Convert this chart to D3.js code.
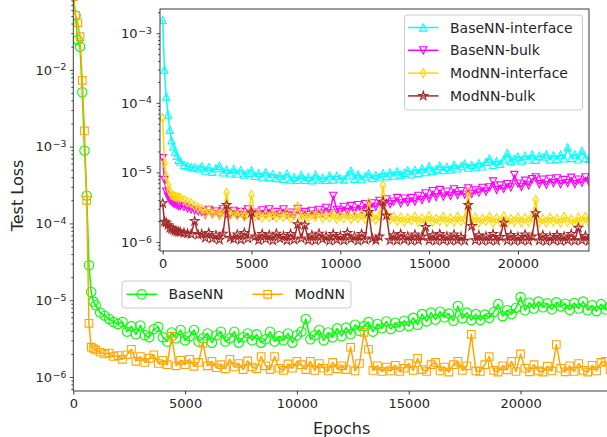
<!DOCTYPE html>
<html>
<head>
<meta charset="utf-8">
<script src="https://cdn.jsdelivr.net/npm/d3@7"></script>
<style>
  body { margin: 0; background: #fff; }
  svg { display: block; font-family: "DejaVu Sans", sans-serif; }
</style>
</head>
<body>
<div id="chart"></div>
<script>
// logging schedule: every 100 epochs at the start, then every 200
var epochs = d3.range(0, 1000, 100).concat(d3.range(1000, 24001, 200));

// all losses below are in units of 1e-6
var UNIT = 1e-6;

// main plot: total test loss
var mainBase = [
  90000, 51000, 24500, 20000, 5100, 890, 230, 28.5, 12.8, 9.6,
  8.6, 6.9, 6.3, 5.7, 5.2, 4.9,
  5.2, 3.9, 4.6, 3.6, 4.7, 3.5, 3.3, 4.2, 4.5, 3.3,
  2.9, 3.8, 3.2, 4.1, 3.0, 3.4, 4.1, 2.9, 3.2, 3.7,
  2.8, 3.5, 3.9, 2.9, 3.2, 3.9, 2.8, 3.3, 3.7, 3.0,
  3.6, 2.8, 3.1, 3.9, 2.9, 3.4, 3.0, 3.7, 2.8, 3.5,
  3.9, 5.7, 3.1, 3.5, 4.1, 3.0, 3.8, 3.3, 4.3, 3.4,
  4.4, 3.6, 4.8, 4.0, 4.6, 5.2, 3.9, 4.9, 4.3, 5.3,
  4.2, 5.1, 4.5, 5.4, 4.6, 5.9, 4.8, 6.6, 5.3, 6.9,
  5.6, 7.1, 6.0, 6.7, 5.4, 8.4, 5.8, 6.9, 5.5, 6.6,
  5.5, 6.5, 5.9, 7.0, 8.9, 6.2, 7.4, 6.6, 8.0, 11.0,
  7.4, 9.3, 7.8, 9.6, 8.1, 9.1, 7.6, 9.4, 8.3, 9.0,
  7.5, 9.2, 7.8, 9.6, 7.4, 8.6, 7.2, 8.9, 7.6, 8.3
];
var mainMod = [
  90000, 51000, 41000, 27000, 7300, 1600, 200, 5.0, 2.45, 2.35,
  2.25, 2.1, 2.0, 2.05, 1.85, 1.9,
  1.7, 1.95, 2.3, 1.6, 1.85, 1.55, 1.75, 1.95, 1.5, 1.65,
  1.45, 3.4, 1.4, 1.65, 1.45, 1.7, 1.38, 1.55, 2.75, 1.4,
  1.6, 1.32, 1.45, 1.28, 1.7, 1.35, 1.5, 1.25, 1.62, 1.35,
  1.28, 1.85, 1.4, 1.25, 1.85, 1.3, 1.22, 1.48, 1.3, 1.6,
  1.45, 1.25, 1.6, 1.22, 1.5, 1.3, 1.2, 1.55, 1.28, 1.4,
  1.25, 2.45, 1.2, 1.5, 3.8, 2.3, 1.22, 1.4, 1.18, 1.35,
  1.2, 1.42, 1.18, 1.3, 1.5, 1.22, 1.75, 1.25, 1.18, 1.45,
  1.55, 1.2, 1.35, 1.16, 1.45, 1.6, 1.22, 1.4, 3.6, 1.2,
  1.18, 1.45, 1.85, 1.22, 1.16, 1.4, 1.24, 1.6, 1.18, 2.0,
  1.3, 1.17, 1.45, 1.2, 1.16, 1.38, 1.2, 2.65, 1.3, 1.17,
  1.4, 1.18, 1.5, 1.22, 1.16, 1.42, 1.2, 1.55, 1.6, 1.25
];

// inset: interface / bulk parts
var insetBaseInt = [
  1550, 300, 123, 68, 41, 29, 23.6, 19.9, 17.3, 15.1,
  14.3, 12.8, 12.3, 11.9, 11.8, 11.4,
  12.2, 10.6, 11.9, 10.2, 11.5, 12.4, 10.0, 11.0, 9.7, 11.3,
  9.6, 10.8, 9.3, 9.9, 10.7, 8.9, 9.8, 8.7, 10.1, 8.6,
  9.5, 8.3, 9.0, 8.1, 9.6, 7.9, 8.6, 7.8, 9.2, 7.8,
  8.6, 7.7, 9.3, 7.9, 8.4, 7.8, 9.0, 7.9, 8.9, 8.2,
  7.9, 9.1, 10.6, 8.1, 9.4, 8.0, 8.8, 9.6, 8.3, 9.1,
  8.5, 9.8, 8.8, 10.0, 9.0, 10.4, 9.2, 9.9, 10.7, 9.4,
  10.9, 9.8, 11.4, 10.1, 12.2, 10.5, 11.2, 12.4, 10.8, 12.0,
  11.0, 12.9, 11.4, 12.3, 13.4, 11.7, 12.8, 11.9, 13.6, 12.2,
  14.2, 15.8, 12.8, 14.6, 13.3, 15.4, 19.0, 14.6, 15.8, 16.9,
  14.8, 17.4, 15.4, 18.0, 15.2, 17.3, 16.4, 18.2, 15.3, 17.6,
  15.6, 18.0, 15.9, 23.0, 16.1, 18.2, 15.4, 20.5, 16.2, 15.6
];
var insetBaseBulk = [
  16.0, 7.8, 5.3, 4.5, 4.0, 3.8, 3.6, 3.5, 3.4, 3.3,
  3.3, 3.2, 3.05, 2.95, 2.85, 2.75,
  2.7, 2.45, 2.9, 2.5, 2.75, 2.4, 2.95, 2.55, 2.45, 2.8,
  2.45, 2.7, 2.4, 2.95, 2.5, 2.65, 2.4, 2.85, 2.5, 2.95,
  2.4, 2.7, 2.5, 2.95, 2.45, 2.65, 2.4, 3.0, 2.5, 2.7,
  2.45, 2.8, 2.5, 2.9, 2.55, 3.1, 2.6, 4.6, 2.9, 2.7,
  3.2, 2.7, 3.3, 2.8, 3.4, 2.85, 3.5, 3.0, 3.6, 3.2,
  3.9, 3.3, 4.1, 3.5, 3.8, 4.3, 3.6, 4.2, 3.7, 4.3,
  3.8, 4.6, 4.0, 5.0, 4.2, 5.4, 4.4, 5.6, 4.5, 5.3,
  4.6, 5.7, 4.7, 5.4, 4.8, 5.9, 4.9, 5.5, 5.1, 6.0,
  5.3, 6.1, 7.4, 5.6, 6.5, 5.8, 6.8, 6.1, 9.2, 6.9,
  6.2, 7.6, 6.5, 8.0, 8.5, 6.8, 7.9, 6.6, 8.1, 7.0,
  8.2, 6.8, 7.8, 7.0, 8.4, 6.8, 7.9, 7.1, 8.5, 7.3
];
var insetModInt = [
  60, 13.5, 8.7, 6.6, 5.3, 4.75, 4.6, 4.5, 4.4, 4.35,
  4.3, 4.0, 3.8, 3.6, 3.3, 3.1,
  3.0, 2.6, 2.9, 2.55, 2.75, 2.45, 2.7, 5.1, 2.45, 2.7,
  2.4, 2.65, 2.3, 2.55, 4.75, 2.35, 2.6, 2.25, 2.5, 2.3,
  2.6, 2.25, 2.5, 2.3, 2.65, 2.2, 2.45, 3.2, 2.25, 2.55,
  2.2, 2.5, 2.3, 2.6, 2.2, 2.45, 2.25, 2.55, 2.15, 2.4,
  2.2, 2.5, 2.15, 2.4, 2.2, 2.5, 2.15, 3.7, 2.3, 2.1,
  2.4, 6.5, 2.5, 2.1, 2.3, 2.0, 2.25, 1.95, 2.2, 2.05,
  2.3, 1.95, 2.2, 2.0, 2.35, 1.95, 2.15, 2.0, 2.3, 1.95,
  2.2, 1.95, 2.3, 2.0, 2.15, 5.2, 2.0, 2.25, 1.9, 2.15,
  2.0, 2.3, 1.9, 2.2, 1.95, 2.35, 1.9, 2.15, 1.95, 2.25,
  1.9, 2.2, 1.95, 2.3, 4.0, 1.9, 2.15, 1.9, 2.25, 1.95,
  2.15, 1.9, 2.3, 1.95, 2.1, 1.85, 2.25, 1.95, 2.3, 1.9
];
var insetModBulk = [
  3.6, 1.96, 1.9, 1.75, 1.6, 1.55, 1.5, 1.45, 1.42, 1.4,
  1.38, 1.35, 1.32, 1.3, 2.0, 1.27,
  1.3, 1.15, 1.35, 1.12, 1.25, 1.08, 1.32, 3.4, 1.15, 1.1,
  1.28, 1.08, 1.35, 1.12, 2.65, 1.2, 1.06, 1.3, 1.1, 1.25,
  1.05, 1.32, 1.12, 1.22, 1.05, 1.3, 1.08, 1.8, 1.12, 1.75,
  1.06, 1.25, 1.05, 1.32, 1.1, 1.2, 1.04, 1.3, 1.08, 1.22,
  1.05, 1.35, 1.1, 1.2, 1.04, 1.3, 1.08, 2.7, 1.12, 1.06,
  1.2, 3.8, 2.4, 1.06, 1.25, 1.05, 1.3, 1.08, 1.2, 1.04,
  1.28, 1.06, 1.2, 1.65, 1.06, 1.25, 1.04, 1.3, 1.06, 1.2,
  1.04, 1.28, 1.06, 1.18, 1.04, 3.4, 1.7, 1.06, 1.25, 1.04,
  1.2, 1.05, 1.3, 1.04, 1.18, 1.9, 1.05, 1.26, 1.04, 1.18,
  1.05, 1.28, 1.04, 1.2, 2.6, 1.05, 1.25, 1.03, 1.18, 1.06,
  1.26, 1.03, 1.2, 1.06, 1.3, 1.04, 1.6, 1.06, 1.22, 1.03
];

// tick labels
var xTicks = [0, 5000, 10000, 15000, 20000];
var mainYTicks = [-6, -5, -4, -3, -2];
var insetYTicks = [-6, -5, -4, -3];

var mainSeries = [
  { name: 'BaseNN', values: mainBase, color: '#00ff00', marker: 'circle' },
  { name: 'ModNN', values: mainMod, color: '#ffa500', marker: 'square' }
];
var insetSeries = [
  { name: 'BaseNN-interface', values: insetBaseInt, color: '#00ffff', marker: 'triUp' },
  { name: 'BaseNN-bulk', values: insetBaseBulk, color: '#ff00ff', marker: 'triDown' },
  { name: 'ModNN-interface', values: insetModInt, color: '#ffd700', marker: 'diamond' },
  { name: 'ModNN-bulk', values: insetModBulk, color: '#a52a2a', marker: 'star' }
];

// marker shapes (hollow, like matplotlib with markerfacecolor none)
var markerPath = {
  circle: 'M4.7,0A4.7,4.7 0 1,1 -4.7,0A4.7,4.7 0 1,1 4.7,0Z',
  square: 'M-3.8,-3.8H3.8V3.8H-3.8Z',
  triUp: 'M0,-3.6L3.6,3.6H-3.6Z',
  triDown: 'M0,3.6L3.6,-3.6H-3.6Z',
  diamond: 'M0,-4.5L2.7,0L0,4.5L-2.7,0Z',
  star: d3.symbol().type(d3.symbolStar).size(24)()
};

var width = 607, height = 437;
var svg = d3.select('#chart').append('svg')
  .attr('width', width)
  .attr('height', height);

var inkColor = '#262626';

// ---- main axes ----
var mainBox = { left: 73.3, right: 610, top: -40, bottom: 391 };
var mainX = d3.scaleLinear().domain([0, 24000]).range([mainBox.left, mainBox.right]);
var mainY = d3.scaleLog().domain([Math.pow(10, -6.182), Math.pow(10, -1.091)]).range([391, 0]);

// ---- inset axes ----
var insetBox = { left: 160, right: 589, top: 9, bottom: 251 };
var insetX = d3.scaleLinear().domain([-150, 24000]).range([insetBox.left, insetBox.right]);
var insetY = d3.scaleLog().domain([Math.pow(10, -6.129), Math.pow(10, -2.652)]).range([insetBox.bottom, insetBox.top]);

var defs = svg.append('defs');
function addClip(id, box) {
  defs.append('clipPath').attr('id', id).append('rect')
    .attr('x', box.left).attr('y', box.top)
    .attr('width', box.right - box.left).attr('height', box.bottom - box.top);
}
addClip('clip-main', mainBox);
addClip('clip-inset', insetBox);

function drawSeries(g, series, x, y, clipId) {
  var line = d3.line()
    .x(function (d, i) { return x(epochs[i]); })
    .y(function (d) { return y(d * UNIT); });
  var layer = g.append('g').attr('clip-path', 'url(#' + clipId + ')');
  series.forEach(function (s) {
    var sg = layer.append('g');
    sg.append('path')
      .attr('d', line(s.values))
      .attr('fill', 'none')
      .attr('stroke', s.color)
      .attr('stroke-width', 1.5)
      .attr('stroke-linejoin', 'round');
    sg.selectAll('path.mk')
      .data(s.values)
      .join('path')
      .attr('class', 'mk')
      .attr('d', markerPath[s.marker])
      .attr('transform', function (d, i) {
        return 'translate(' + x(epochs[i]) + ',' + y(d * UNIT) + ')';
      })
      .attr('fill', 'none')
      .attr('stroke', s.color)
      .attr('stroke-width', 1.1);
  });
}

function drawAxes(g, box, x, y, yTicks, fullBox, labelRight) {
  // x ticks
  var xa = g.append('g')
    .attr('transform', 'translate(0,' + box.bottom + ')')
    .call(d3.axisBottom(x).tickValues(xTicks).tickFormat(d3.format('d'))
      .tickSize(3.5).tickPadding(4.4).tickSizeOuter(0));
  xa.select('.domain').remove();
  xa.attr('font-size', 13).attr('font-family', '"DejaVu Sans", sans-serif');
  xa.selectAll('line').attr('stroke', inkColor).attr('stroke-width', 0.9);
  xa.selectAll('text').attr('fill', inkColor);

  // y ticks: major + log minor
  var majors = yTicks.map(function (p) { return Math.pow(10, p); });
  var minors = y.ticks().filter(function (v) {
    var m = Math.round(v / Math.pow(10, Math.floor(Math.log10(v) + 1e-9)));
    return m !== 1;
  });
  var ya = g.append('g').attr('transform', 'translate(' + box.left + ',0)')
    .call(d3.axisLeft(y).tickValues(majors).tickFormat('').tickSize(3.5).tickSizeOuter(0));
  var ym = g.append('g').attr('transform', 'translate(' + box.left + ',0)')
    .call(d3.axisLeft(y).tickValues(minors).tickFormat('').tickSize(2).tickSizeOuter(0));
  [ya, ym].forEach(function (a) {
    a.select('.domain').remove();
    a.selectAll('line').attr('stroke', inkColor).attr('stroke-width', 0.8);
  });

  var lab = g.append('g').selectAll('text')
    .data(yTicks)
    .join('text')
    .attr('x', labelRight)
    .attr('y', function (p) { return y(Math.pow(10, p)) + 4.8; })
    .attr('text-anchor', 'end')
    .attr('fill', inkColor)
    .attr('font-size', 13);
  lab.append('tspan').text('10');
  lab.append('tspan')
    .attr('dy', -4.2)
    .attr('dx', 0.8)
    .attr('font-size', 9.3)
    .text(function (p) { return '\u2212' + Math.abs(p); });

  // spines
  if (fullBox) {
    g.append('rect')
      .attr('x', box.left).attr('y', box.top)
      .attr('width', box.right - box.left).attr('height', box.bottom - box.top)
      .attr('fill', 'none').attr('stroke', inkColor).attr('stroke-width', 0.9);
  } else {
    g.append('path')
      .attr('d', 'M' + box.left + ',' + box.top + 'V' + box.bottom + 'H' + box.right)
      .attr('fill', 'none').attr('stroke', inkColor).attr('stroke-width', 0.9);
  }
}

function drawLegend(g, items, box, rows) {
  g.append('rect')
    .attr('x', box.x).attr('y', box.y)
    .attr('width', box.w).attr('height', box.h)
    .attr('rx', 3)
    .attr('fill', '#fff').attr('fill-opacity', 0.8)
    .attr('stroke', '#cccccc').attr('stroke-width', 1);
  items.forEach(function (s, i) {
    var r = rows[i];
    var e = g.append('g');
    e.append('line')
      .attr('x1', r.x).attr('x2', r.x + 30.5)
      .attr('y1', r.y).attr('y2', r.y)
      .attr('stroke', s.color).attr('stroke-width', 1.5);
    e.append('path')
      .attr('d', markerPath[s.marker])
      .attr('transform', 'translate(' + (r.x + 15.25) + ',' + r.y + ')')
      .attr('fill', 'none').attr('stroke', s.color).attr('stroke-width', 1.1);
    e.append('text')
      .attr('x', r.x + 42)
      .attr('y', r.y + 5)
      .attr('font-size', 14)
      .attr('fill', inkColor)
      .text(s.name);
  });
}

// main panel
var gMain = svg.append('g');
drawSeries(gMain, mainSeries, mainX, mainY, 'clip-main');
drawAxes(gMain, mainBox, mainX, mainY, mainYTicks, false, 66.5);

gMain.append('text')
  .attr('transform', 'translate(22.5,195.5) rotate(-90)')
  .attr('text-anchor', 'middle')
  .attr('font-size', 16)
  .attr('fill', inkColor)
  .text('Test Loss');
gMain.append('text')
  .attr('x', (mainBox.left + mainBox.right) / 2)
  .attr('y', 434)
  .attr('text-anchor', 'middle')
  .attr('font-size', 16)
  .attr('fill', inkColor)
  .text('Epochs');

drawLegend(gMain, mainSeries, { x: 122, y: 281, w: 229, h: 27 },
  [{ x: 126.5, y: 294.3 }, { x: 252.5, y: 294.3 }]);

// inset panel
var gInset = svg.append('g');
gInset.append('rect')
  .attr('x', insetBox.left).attr('y', insetBox.top)
  .attr('width', insetBox.right - insetBox.left).attr('height', insetBox.bottom - insetBox.top)
  .attr('fill', '#fff');
drawSeries(gInset, insetSeries, insetX, insetY, 'clip-inset');
drawAxes(gInset, insetBox, insetX, insetY, insetYTicks, true, 152);

drawLegend(gInset, insetSeries, { x: 404.5, y: 15, w: 178, h: 95 },
  insetSeries.map(function (s, i) { return { x: 408, y: 27.5 + i * 22.8 }; }));
</script>
</body>
</html>
